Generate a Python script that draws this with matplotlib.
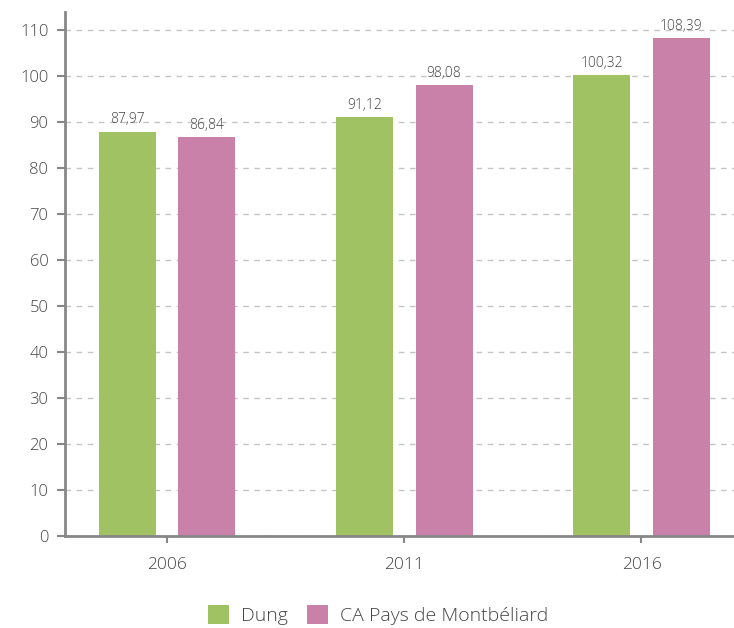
import numpy as np
import matplotlib
matplotlib.use("Agg")
import matplotlib.pyplot as plt

years = ["2006", "2011", "2016"]
dung = [87.97, 91.12, 100.32]
montbeliard = [86.84, 98.08, 108.39]
series_names = ["Dung", "CA Pays de Montbéliard"]
yticks = list(range(0, 120, 10))

GREEN = "#a0c262"
PINK = "#c981aa"
GREY = "#878787"
TEXT = "#444444"

plt.rcParams['font.family'] = ['Open Sans', 'DejaVu Sans']
plt.rcParams['font.weight'] = 'light'

def fmt(v):
    return f"{v:.2f}".replace(".", ",")

def main():
    fig = plt.figure(figsize=(7.34, 6.28), dpi=100)
    ax = fig.add_axes([0.0886, 0.1465, 0.9114, 0.8345])

    x = np.arange(len(years))
    w = 0.24
    off = 0.168
    b1 = ax.bar(x - off, dung, w, color=GREEN, label=series_names[0], zorder=3)
    b2 = ax.bar(x + off, montbeliard, w, color=PINK, label=series_names[1], zorder=3)

    for bars, vals in ((b1, dung), (b2, montbeliard)):
        for r, v in zip(bars, vals):
            ax.annotate(fmt(v), (r.get_x() + r.get_width() / 2, v),
                        xytext=(0, 3), textcoords="offset points",
                        ha="center", va="bottom", fontsize=10, color=TEXT)

    ax.set_xlim(-0.43, 2.39)
    ax.set_ylim(0, 114)
    ax.set_yticks(yticks)
    ax.set_xticks(x, labels=years)
    ax.tick_params(axis="y", length=6, width=1.5, color=GREY, labelsize=12, labelcolor=TEXT, pad=6)
    ax.tick_params(axis="x", length=5, width=1.5, color=GREY, labelsize=12.5, labelcolor=TEXT, pad=10)

    ax.grid(axis="y", linestyle=(0, (4, 4)), color="#c4c4c4", linewidth=1, zorder=0)
    for s in ("top", "right"):
        ax.spines[s].set_visible(False)
    ax.spines["left"].set_color(GREY)
    ax.spines["left"].set_linewidth(2)
    ax.spines["bottom"].set_color(GREY)
    ax.spines["bottom"].set_linewidth(2)
    ax.spines["bottom"].set_zorder(4)

    fig.legend(handles=[b1, b2], loc="center", bbox_to_anchor=(0.515, 0.02),
               ncol=2, frameon=False, fontsize=14, handlelength=1.1, handleheight=1.1,
               columnspacing=1.0, handletextpad=0.6, labelcolor=TEXT)

    fig.savefig("out.png", dpi=100)

if __name__ == '__main__':
    main()
